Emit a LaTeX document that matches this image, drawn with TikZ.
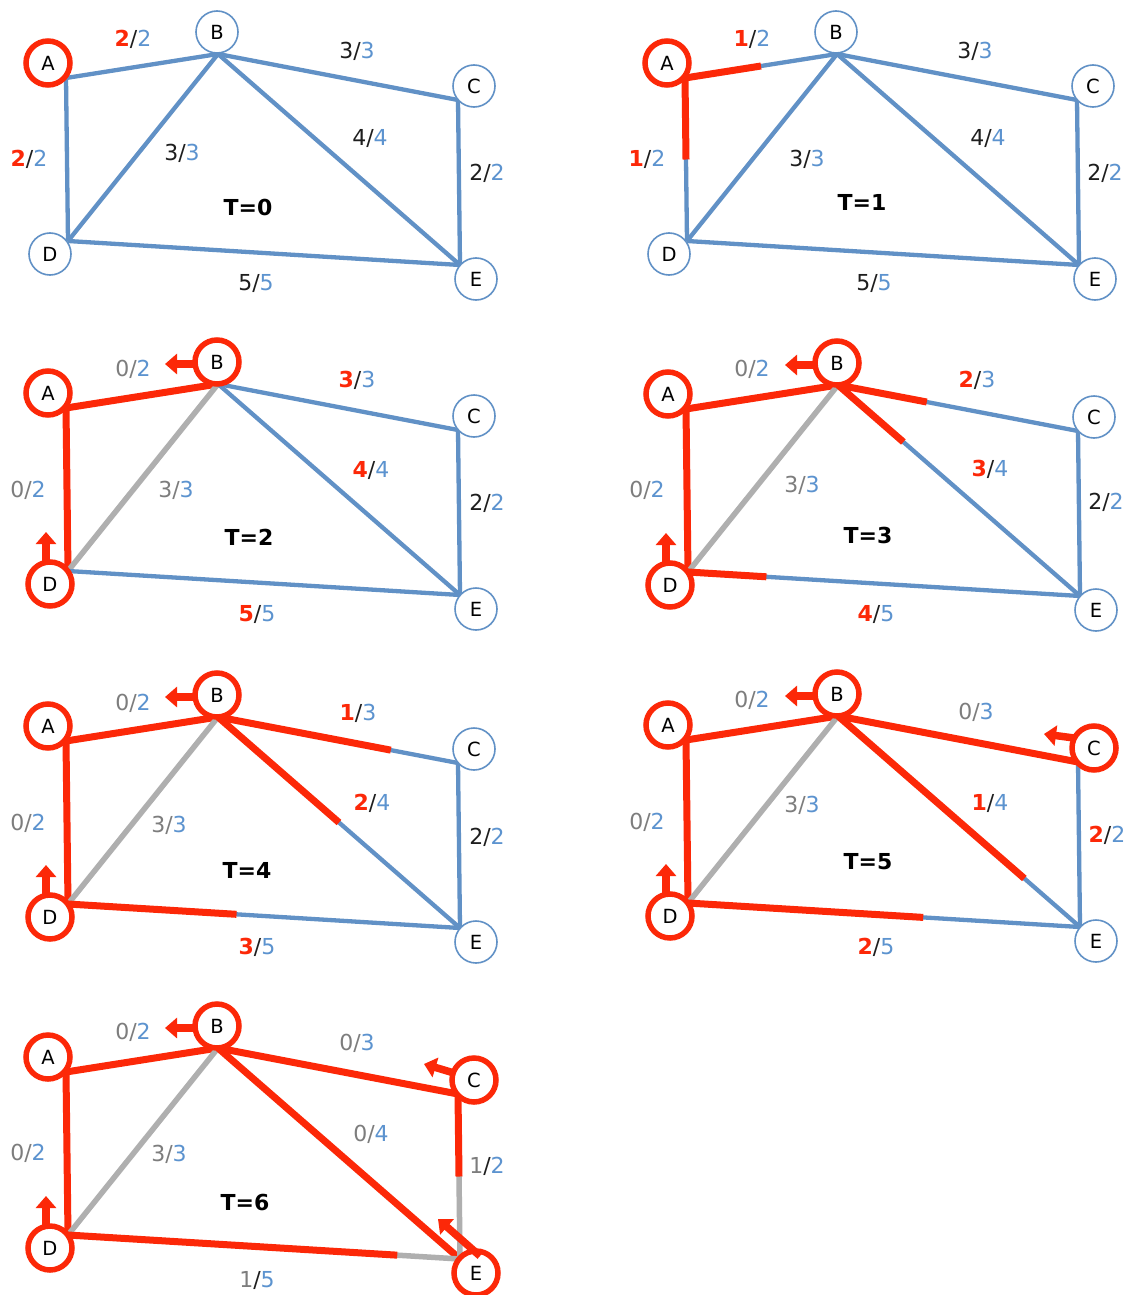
\documentclass[tikz,border=0pt]{standalone}
\usepackage{fontspec}
\setmainfont{DejaVu Sans}
\usetikzlibrary{calc,arrows.meta}

\definecolor{cblue}{RGB}{97,145,198}
\definecolor{cbluetxt}{RGB}{92,147,207}
\definecolor{cred}{RGB}{252,40,8}
\definecolor{cgray}{RGB}{175,175,175}
\definecolor{cgraytxt}{RGB}{125,125,125}
\definecolor{ctxt}{RGB}{30,30,30}

% flow/capacity labels: black, saturated (red), empty (gray), mixed
\newcommand\lblK[2]{{\color{ctxt}#1/}{\color{cbluetxt}#2}}
\newcommand\lblR[2]{{\color{cred}\bfseries #1}{\color{ctxt}/}{\color{cbluetxt}#2}}
\newcommand\lblG[2]{{\color{cgraytxt}#1/}{\color{cbluetxt}#2}}
\newcommand\lblM[2]{{\color{cgraytxt}#1}{\color{ctxt}/}{\color{cbluetxt}#2}}

% attachment points of the edges on the vertex circles
\newcommand\setpanel[1]{%
  \coordinate (pA#1) at (66,78);
  \coordinate (pB#1) at (218,54);
  \coordinate (pC#1) at (458,100);
  \coordinate (pD#1) at (68,241);
  \coordinate (pE#1) at (460,265);}

% the five vertices, one style each
\newcommand\vertices[6]{%
  \node[#2] (A#1) at (48,63)  {A};
  \node[#3] (B#1) at (217,32) {B};
  \node[#4] (C#1) at (474,86) {C};
  \node[#5] (D#1) at (50,254) {D};
  \node[#6] (E#1) at (476,279) {E};}

% the seven edges, one style each: AB AD DB BC BE CE DE
\newcommand\baseedges[8]{%
  \draw[#2] (pA#1) -- (pB#1);
  \draw[#3] (pA#1) -- (pD#1);
  \draw[#4] (pD#1) -- (pB#1);
  \draw[#5] (pB#1) -- (pC#1);
  \draw[#6] (pB#1) -- (pE#1);
  \draw[#7] (pC#1) -- (pE#1);
  \draw[#8] (pD#1) -- (pE#1);}

% red part of an edge, from its first end up to a fraction of its length
\newcommand\partflow[4]{%
  \coordinate (#4) at ($(#1)!#3!(#2)$);
  \draw[redge] (#1) -- (#4);}

\tikzset{
  x=1pt, y=-1pt,
  bedge/.style={draw=cblue, line width=4.3},
  gedge/.style={draw=cgray, line width=5.5},
  redge/.style={draw=cred, line width=7},
  vtx/.style={circle, fill=white, inner sep=0pt, text=black,
    font=\fontsize{19.5}{22}\selectfont},
  vblue/.style={vtx, draw=cblue, line width=1.6, minimum size=42},
  vred/.style={vtx, draw=cred, line width=5.5, minimum size=44},
  lbl/.style={inner sep=0pt, font=\fontsize{22}{24}\selectfont},
  ttl/.style={inner sep=0pt, font=\fontsize{22}{24}\selectfont\bfseries, text=black},
  flowarrow/.style={draw=cred, line width=7.5, -{Triangle[width=20pt,length=12pt]}},
}

\begin{document}
\begin{tikzpicture}
\useasboundingbox[fill=white] (0,0) rectangle (1136,1295);

% ---------------- T=0 ----------------
\begin{scope}[shift={(0,0)}]
  \setpanel{0}
  \baseedges{0}{bedge}{bedge}{bedge}{bedge}{bedge}{bedge}{bedge}
  \vertices{0}{vred}{vblue}{vblue}{vblue}{vblue}
  \node[lbl] (ab0) at (133,39)  {\lblR{2}{2}};
  \node[lbl] (bc0) at (357,51)  {\lblK{3}{3}};
  \node[lbl] (ad0) at (29,159)  {\lblR{2}{2}};
  \node[lbl] (bd0) at (182,153) {\lblK{3}{3}};
  \node[lbl] (be0) at (370,139) {\lblK{4}{4}};
  \node[lbl] (ce0) at (487,173) {\lblK{2}{2}};
  \node[lbl] (de0) at (256,283) {\lblK{5}{5}};
  \node[ttl] (t0) at (248,207) {T=0};
\end{scope}

% ---------------- T=1 ----------------
\begin{scope}[shift={(619,0)}]
  \setpanel{1}
  \baseedges{1}{bedge}{bedge}{bedge}{bedge}{bedge}{bedge}{bedge}
  \partflow{pA1}{pB1}{0.5}{mab1}
  \partflow{pA1}{pD1}{0.5}{mad1}
  \vertices{1}{vred}{vblue}{vblue}{vblue}{vblue}
  \node[lbl] (ab1) at (133,39)  {\lblR{1}{2}};
  \node[lbl] (bc1) at (356,51)  {\lblK{3}{3}};
  \node[lbl] (ad1) at (28,159)  {\lblR{1}{2}};
  \node[lbl] (bd1) at (188,159) {\lblK{3}{3}};
  \node[lbl] (be1) at (369,139) {\lblK{4}{4}};
  \node[lbl] (ce1) at (486,173) {\lblK{2}{2}};
  \node[lbl] (de1) at (255,283) {\lblK{5}{5}};
  \node[ttl] (t1) at (243,202) {T=1};
\end{scope}

% ---------------- T=2 ----------------
\begin{scope}[shift={(0,330)}]
  \setpanel{2}
  \baseedges{2}{redge}{redge}{gedge}{bedge}{bedge}{bedge}{bedge}
  \vertices{2}{vred}{vred}{vblue}{vred}{vblue}
  \coordinate (qB2) at ($(B2)+(-52,2)$);
  \coordinate (qD2) at ($(D2)+(-4,-52)$);
  \draw[flowarrow] ($(B2)+(-20,2)$) -- (qB2);
  \draw[flowarrow] ($(D2)+(-4,-20)$) -- (qD2);
  \node[lbl] (ab2) at (133,39)  {\lblG{0}{2}};
  \node[lbl] (bc2) at (357,50)  {\lblR{3}{3}};
  \node[lbl] (ad2) at (28,160)  {\lblG{0}{2}};
  \node[lbl] (bd2) at (176,160) {\lblG{3}{3}};
  \node[lbl] (be2) at (371,140) {\lblR{4}{4}};
  \node[lbl] (ce2) at (487,173) {\lblK{2}{2}};
  \node[lbl] (de2) at (257,284) {\lblR{5}{5}};
  \node[ttl] (t2) at (249,207) {T=2};
\end{scope}

% ---------------- T=3 ----------------
\begin{scope}[shift={(620,331)}]
  \setpanel{3}
  \baseedges{3}{redge}{redge}{gedge}{bedge}{bedge}{bedge}{bedge}
  \partflow{pB3}{pC3}{0.37}{mbc3}
  \partflow{pB3}{pE3}{0.27}{mbe3}
  \partflow{pD3}{pE3}{0.2}{mde3}
  \vertices{3}{vred}{vred}{vblue}{vred}{vblue}
  \coordinate (qB3) at ($(B3)+(-52,2)$);
  \coordinate (qD3) at ($(D3)+(-4,-52)$);
  \draw[flowarrow] ($(B3)+(-20,2)$) -- (qB3);
  \draw[flowarrow] ($(D3)+(-4,-20)$) -- (qD3);
  \node[lbl] (ab3) at (132,38)  {\lblG{0}{2}};
  \node[lbl] (bc3) at (357,49)  {\lblR{2}{3}};
  \node[lbl] (ad3) at (27,159)  {\lblG{0}{2}};
  \node[lbl] (bd3) at (182,154) {\lblG{3}{3}};
  \node[lbl] (be3) at (370,138) {\lblR{3}{4}};
  \node[lbl] (ce3) at (486,171) {\lblK{2}{2}};
  \node[lbl] (de3) at (256,283) {\lblR{4}{5}};
  \node[ttl] (t3) at (248,204) {T=3};
\end{scope}

% ---------------- T=4 ----------------
\begin{scope}[shift={(0,663)}]
  \setpanel{4}
  \baseedges{4}{redge}{redge}{gedge}{bedge}{bedge}{bedge}{bedge}
  \partflow{pB4}{pC4}{0.72}{mbc4}
  \partflow{pB4}{pE4}{0.5}{mbe4}
  \partflow{pD4}{pE4}{0.43}{mde4}
  \vertices{4}{vred}{vred}{vblue}{vred}{vblue}
  \coordinate (qB4) at ($(B4)+(-52,2)$);
  \coordinate (qD4) at ($(D4)+(-4,-52)$);
  \draw[flowarrow] ($(B4)+(-20,2)$) -- (qB4);
  \draw[flowarrow] ($(D4)+(-4,-20)$) -- (qD4);
  \node[lbl] (ab4) at (133,40)  {\lblG{0}{2}};
  \node[lbl] (bc4) at (358,50)  {\lblR{1}{3}};
  \node[lbl] (ad4) at (28,160)  {\lblG{0}{2}};
  \node[lbl] (bd4) at (169,162) {\lblG{3}{3}};
  \node[lbl] (be4) at (372,140) {\lblR{2}{4}};
  \node[lbl] (ce4) at (487,174) {\lblK{2}{2}};
  \node[lbl] (de4) at (257,284) {\lblR{3}{5}};
  \node[ttl] (t4) at (247,207) {T=4};
\end{scope}

% ---------------- T=5 ----------------
\begin{scope}[shift={(620,662)}]
  \setpanel{5}
  \baseedges{5}{redge}{redge}{gedge}{redge}{bedge}{bedge}{bedge}
  \partflow{pB5}{pE5}{0.77}{mbe5}
  \partflow{pD5}{pE5}{0.6}{mde5}
  \vertices{5}{vred}{vred}{vred}{vred}{vblue}
  \coordinate (qB5) at ($(B5)+(-52,2)$);
  \coordinate (qD5) at ($(D5)+(-4,-52)$);
  \coordinate (qC5) at ($(C5)+(-50,-14)$);
  \draw[flowarrow] ($(B5)+(-20,2)$) -- (qB5);
  \draw[flowarrow] ($(D5)+(-4,-20)$) -- (qD5);
  \draw[flowarrow] ($(C5)+(-20,-10)$) -- (qC5);
  \node[lbl] (ab5) at (132,38)  {\lblG{0}{2}};
  \node[lbl] (bc5) at (356,50)  {\lblG{0}{3}};
  \node[lbl] (ad5) at (27,160)  {\lblG{0}{2}};
  \node[lbl] (bd5) at (182,143) {\lblG{3}{3}};
  \node[lbl] (be5) at (370,141) {\lblR{1}{4}};
  \node[lbl] (ce5) at (487,173) {\lblR{2}{2}};
  \node[lbl] (de5) at (256,285) {\lblR{2}{5}};
  \node[ttl] (t5) at (248,200) {T=5};
\end{scope}

% ---------------- T=6 ----------------
\begin{scope}[shift={(0,994)}]
  \setpanel{6}
  \baseedges{6}{redge}{redge}{gedge}{redge}{redge}{gedge}{gedge}
  \partflow{pC6}{pE6}{0.5}{mce6}
  \partflow{pD6}{pE6}{0.84}{mde6}
  \vertices{6}{vred}{vred}{vred}{vred}{vred}
  \coordinate (qB6) at ($(B6)+(-52,2)$);
  \coordinate (qD6) at ($(D6)+(-4,-52)$);
  \coordinate (qC6) at ($(C6)+(-50,-16)$);
  \coordinate (qE6) at ($(E6)+(-38,-54)$);
  \draw[flowarrow] ($(B6)+(-20,2)$) -- (qB6);
  \draw[flowarrow] ($(D6)+(-4,-20)$) -- (qD6);
  \draw[flowarrow] ($(C6)+(-20,-7)$) -- (qC6);
  \draw[flowarrow] ($(E6)+(4,-17)$) -- (qE6);
  \node[lbl] (ab6) at (133,38)  {\lblG{0}{2}};
  \node[lbl] (bc6) at (357,49)  {\lblG{0}{3}};
  \node[lbl] (ad6) at (28,159)  {\lblG{0}{2}};
  \node[lbl] (bd6) at (169,160) {\lblG{3}{3}};
  \node[lbl] (be6) at (371,140) {\lblG{0}{4}};
  \node[lbl] (ce6) at (487,172) {\lblM{1}{2}};
  \node[lbl] (de6) at (257,286) {\lblM{1}{5}};
  \node[ttl] (t6) at (245,208) {T=6};
\end{scope}
\end{tikzpicture}
\end{document}
